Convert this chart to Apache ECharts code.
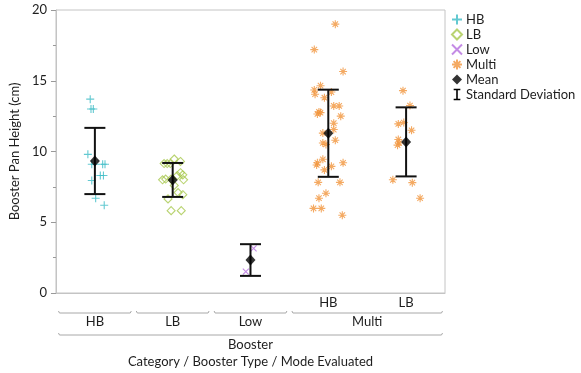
<!DOCTYPE html>
<html>
<head>
<meta charset="utf-8">
<script src="https://cdn.jsdelivr.net/npm/echarts@6/dist/echarts.min.js"></script>
<style>
  html, body { margin: 0; padding: 0; background: #fff; }
  #chart { width: 581px; height: 373px; }
</style>
</head>
<body>
<div id="chart"></div>
<script>
// groups along the x axis: Booster type / mode evaluated
const groupNames = ['HB', 'LB', 'Low', 'Multi HB', 'Multi LB'];
const modeLabels = ['', '', '', 'HB', 'LB'];
const typeSpans = [['HB', 0, 0], ['LB', 1, 1], ['Low', 2, 2], ['Multi', 3, 4]];
const categorySpan = ['Booster', 0, 4];

// points: [height (cm), jitter in category units]
const hbPoints = [
  [13.7, -0.06], [13.0, -0.05], [13.0, -0.02], [9.8, -0.09], [9.1, -0.04], [9.1, 0.0],
  [9.1, 0.10], [9.1, 0.13], [8.3, 0.07], [8.3, 0.11], [7.95, -0.04], [6.7, 0.01], [6.2, 0.12]
];
const lbPoints = [
  [9.15, -0.11], [9.15, -0.07], [9.15, -0.03], [9.47, 0.02], [9.3, 0.10], [8.5, 0.10],
  [8.35, 0.13], [8.3, 0.06], [8.0, -0.13], [8.05, -0.09], [8.05, -0.02], [8.0, 0.14],
  [7.6, 0.02], [7.1, 0.07], [6.95, 0.13], [6.65, -0.06], [5.82, -0.02], [5.82, 0.11]
];
const lowPoints = [[3.16, 0.04], [1.51, -0.06]];
const multiHbPoints = [
  [19.0, 0.09], [17.2, -0.18], [15.65, 0.19], [14.65, -0.10], [14.35, -0.18], [14.05, -0.17],
  [14.2, 0.04], [13.8, -0.05], [13.22, 0.07], [13.22, 0.14], [12.8, -0.12], [12.65, -0.14],
  [12.75, -0.10], [12.5, 0.16], [12.0, 0.07], [11.55, 0.07], [11.3, -0.07], [10.6, -0.07],
  [10.5, -0.03], [10.8, 0.09], [9.45, -0.07], [9.2, -0.14], [9.05, -0.15], [9.2, 0.19],
  [8.95, 0.04], [8.7, -0.05], [7.82, -0.13], [7.82, 0.15], [7.05, -0.03], [6.7, -0.12],
  [5.98, -0.19], [5.98, -0.09], [5.5, 0.18]
];
const multiLbPoints = [
  [14.3, -0.04], [13.25, 0.05], [11.95, -0.10], [12.05, -0.03], [11.5, 0.07], [10.85, -0.10],
  [10.6, -0.09], [10.45, -0.11], [8.0, -0.17], [7.8, 0.08], [6.7, 0.18]
];

const means = [9.33, 7.99, 2.33, 11.29, 10.68];
const sds = [2.34, 1.2, 1.12, 3.08, 2.44];

const colors = { HB: '#3cbcc6', LB: '#a8c84e', Low: '#b56ede', Multi: '#f1953c' };
const font = 'Lato, "Open Sans", sans-serif';
const textColor = '#1e1e1e';
const gridColor = '#c4c4c4';

const SYM_PLUS = 'path://M5,0 V10 M0,5 H10';
const SYM_CROSS = 'path://M0,0 L10,10 M10,0 L0,10';
const SYM_STAR = 'path://M5,0 V10 M0,5 H10 M1.6,1.6 L8.4,8.4 M8.4,1.6 L1.6,8.4';
const SYM_SD = 'path://M0,0 H8 M4,0 V12 M0,12 H8';

function toXY(points, groupIndex) {
  return points.map(([v, j]) => [groupIndex + j, v]);
}

const strokeSymbol = (color) => ({ color: 'rgba(0,0,0,0)', borderColor: color, borderWidth: 1.1 });

// axis label rows: [from, to, row]
const labelItems = [];
const labelTexts = [];
modeLabels.forEach((m, i) => {
  if (m) { labelItems.push([i, i, 0]); labelTexts.push(m); }
});
typeSpans.forEach(([t, a, b]) => { labelItems.push([a, b, 1]); labelTexts.push(t); });
labelItems.push([categorySpan[1], categorySpan[2], 2]);
labelTexts.push(categorySpan[0]);

const chart = echarts.init(document.getElementById('chart'), null, { renderer: 'canvas' });

chart.setOption({
  animation: false,
  textStyle: { fontFamily: font },
  grid: {
    left: 50, right: 136, top: 10, bottom: 80,
    show: true, borderColor: gridColor, borderWidth: 1
  },
  legend: {
    orient: 'vertical',
    left: 446,
    top: 8,
    itemWidth: 10,
    itemHeight: 10,
    itemGap: 2,
    textStyle: { fontFamily: font, fontSize: 13, color: textColor, padding: [0, 0, 0, -1] },
    data: [
      { name: 'HB' },
      { name: 'LB' },
      { name: 'Low' },
      { name: 'Multi' },
      { name: 'Mean' },
      { name: 'Standard Deviation', icon: SYM_SD,
        itemStyle: { color: 'rgba(0,0,0,0)', borderColor: '#000', borderWidth: 1.6 } }
    ]
  },
  xAxis: {
    type: 'value',
    min: -0.5,
    max: 4.5,
    name: 'Category / Booster Type / Mode Evaluated',
    nameLocation: 'middle',
    nameGap: 62,
    nameTextStyle: { fontFamily: font, fontSize: 13, color: textColor },
    axisLine: { show: true, onZero: false, lineStyle: { color: gridColor } },
    axisTick: { show: false },
    axisLabel: { show: false },
    splitLine: { show: false }
  },
  yAxis: {
    type: 'value',
    min: 0,
    max: 20,
    interval: 5,
    name: 'Booster Pan Height (cm)',
    nameLocation: 'middle',
    nameRotate: 90,
    nameGap: 25,
    nameTextStyle: { fontFamily: font, fontSize: 13, color: textColor },
    axisLine: { show: true, onZero: false, lineStyle: { color: gridColor } },
    axisTick: { show: true, length: 5, lineStyle: { color: '#999' } },
    minorTick: { show: true, splitNumber: 2, length: 3, lineStyle: { color: '#999' } },
    axisLabel: { fontFamily: font, fontSize: 13, color: textColor, margin: 9 },
    splitLine: { show: false }
  },
  series: [
    { name: 'HB', type: 'scatter', symbol: SYM_PLUS, symbolSize: 8, z: 2,
      itemStyle: strokeSymbol(colors.HB), data: toXY(hbPoints, 0) },
    { name: 'LB', type: 'scatter', symbol: 'diamond', symbolSize: 8, z: 2,
      itemStyle: strokeSymbol(colors.LB), data: toXY(lbPoints, 1) },
    { name: 'Low', type: 'scatter', symbol: SYM_CROSS, symbolSize: 6, z: 2,
      itemStyle: strokeSymbol(colors.Low), data: toXY(lowPoints, 2) },
    { name: 'Multi', type: 'scatter', symbol: SYM_STAR, symbolSize: 8, z: 2,
      itemStyle: strokeSymbol(colors.Multi),
      data: toXY(multiHbPoints, 3).concat(toXY(multiLbPoints, 4)) },
    {
      name: 'Standard Deviation',
      type: 'custom',
      z: 3,
      data: means.map((m, i) => [i, m - sds[i], m + sds[i]]),
      encode: { x: 0, y: [1, 2] },
      renderItem: (params, api) => {
        const lo = api.coord([api.value(0), api.value(1)]);
        const hi = api.coord([api.value(0), api.value(2)]);
        const w = 10.5;
        const style = { stroke: '#111', lineWidth: 2 };
        return {
          type: 'group',
          children: [
            { type: 'line', shape: { x1: lo[0], y1: lo[1], x2: hi[0], y2: hi[1] }, style },
            { type: 'line', shape: { x1: lo[0] - w, y1: lo[1], x2: lo[0] + w, y2: lo[1] }, style },
            { type: 'line', shape: { x1: hi[0] - w, y1: hi[1], x2: hi[0] + w, y2: hi[1] }, style }
          ]
        };
      }
    },
    { name: 'Mean', type: 'scatter', symbol: 'diamond', symbolSize: [10, 11], z: 4,
      itemStyle: { color: '#000' }, data: means.map((m, i) => [i, m]) },
    {
      name: 'axisLabels',
      type: 'custom',
      silent: true,
      clip: false,
      z: 1,
      data: labelItems,
      encode: { x: [0, 1] },
      renderItem: (params, api) => {
        const row = api.value(2);
        const p0 = api.coord([api.value(0) - 0.5, 0]);
        const p1 = api.coord([api.value(1) + 0.5, 0]);
        const base = p0[1];
        const cx = (p0[0] + p1[0]) / 2;
        const text = labelTexts[params.dataIndex];
        const textY = [base + 10, base + 29, base + 52][row];
        const children = [{
          type: 'text',
          style: {
            text, x: cx, y: textY, align: 'center', verticalAlign: 'middle',
            font: '13px ' + font, fill: textColor
          }
        }];
        if (row > 0) {
          const by = row === 1 ? base + 20 : base + 42;
          const x0 = p0[0] + 2.5, x1 = p1[0] - 2.5;
          children.push({
            type: 'polyline',
            shape: { points: [[x0, by - 2], [x0 + 1, by], [x1 - 1, by], [x1, by - 2]] },
            style: { stroke: '#a8a8a8', lineWidth: 1, fill: null }
          });
        }
        return { type: 'group', children };
      }
    }
  ]
});
</script>
</body>
</html>
